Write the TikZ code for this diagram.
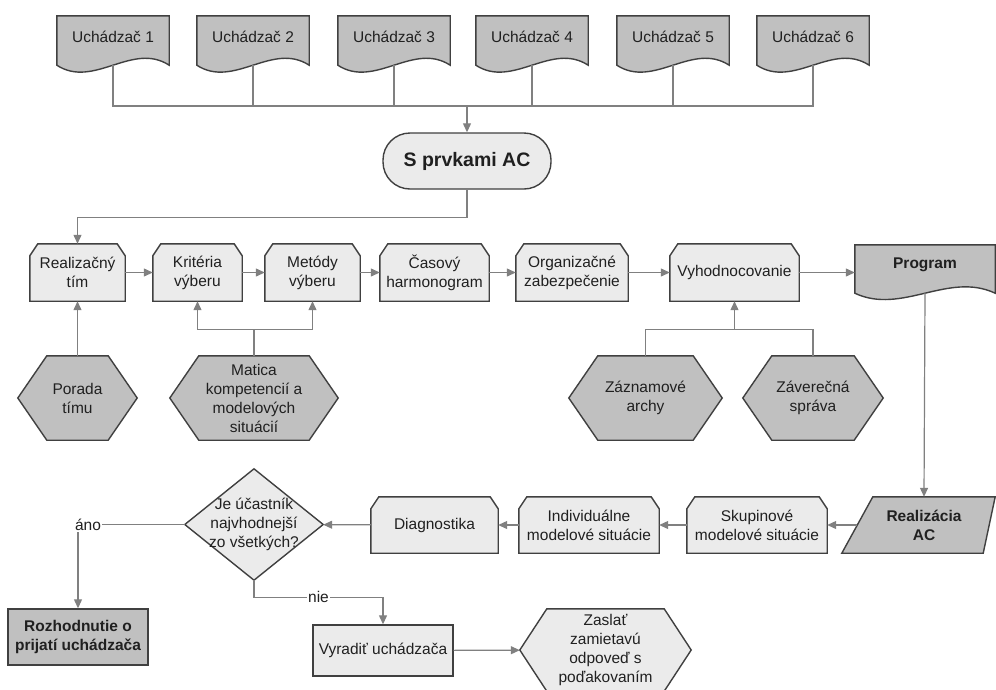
\documentclass[tikz,border=0pt]{standalone}
\usepackage{fontspec}
\setmainfont{Liberation Sans}
\usepackage{tikz}
\usetikzlibrary{arrows.meta, calc, backgrounds}

\definecolor{boxline}{HTML}{404040}
\definecolor{lightfill}{HTML}{EBEBEB}
\definecolor{darkfill}{HTML}{C0C0C0}
\definecolor{conn}{HTML}{808080}
\definecolor{txt}{HTML}{202020}

\begin{document}
\begin{tikzpicture}[
    x=1pt, y=-1pt,
    every node/.style={inner sep=0pt, text=txt, align=center, font=\fontsize{15.5}{19}\selectfont},
    boldtext/.style={font=\fontsize{15.5}{19}\selectfont\bfseries},
    outline/.style={draw=boxline, line width=1.4pt, fill=lightfill},
    darkoutline/.style={outline, fill=darkfill},
    line/.style={draw=conn, line width=1.2pt},
    arrow/.style={line, -{Triangle[length=9pt, width=8pt]}},
    answer/.style={fill=white, inner sep=1.5pt}
]
\useasboundingbox (0,0) rectangle (996,689);

% Applicants (documents)
\foreach \x [count=\i] in {113,253,394,532,673,813}
    \node[minimum width=112pt, minimum height=42pt] (u\i) at (\x,37) {Uchádzač \i};

\coordinate (bus) at (467,106);
\node[outline, rounded corners=27pt, minimum width=168pt, minimum height=56pt,
      font=\fontsize{19.5}{22}\selectfont\bfseries] (sac) at (467,161) {S prvkami AC};

% Preparation row
\node[minimum width=95pt,  minimum height=57pt] (tim)      at (77.5,272.5)  {Realizačný\\tím};
\node[minimum width=89pt,  minimum height=57pt] (kriteria) at (197.5,272.5) {Kritéria\\výberu};
\node[minimum width=95pt,  minimum height=57pt] (metody)   at (312.5,272.5) {Metódy\\výberu};
\node[minimum width=109pt, minimum height=57pt] (casovy)   at (434.5,272.5) {Časový\\harmonogram};
\node[minimum width=112pt, minimum height=57pt] (organiz)  at (572,272.5)   {Organizačné\\zabezpečenie};
\node[minimum width=129pt, minimum height=57pt] (vyhod)    at (734.5,272.5) {Vyhodnocovanie};
\node[boldtext, minimum width=140pt, minimum height=40pt] (program) at (925,265) {Program};

% Inputs (hexagons)
\node[minimum width=119pt, minimum height=84pt] (porada) at (77.5,398)  {Porada\\tímu};
\node[minimum width=168pt, minimum height=84pt] (matica) at (254,398)   {Matica\\kompetencií a\\modelových\\situácií};
\node[minimum width=153pt, minimum height=84pt] (zaznam) at (645.5,398) {Záznamové\\archy};
\node[minimum width=140pt, minimum height=84pt] (zaver)  at (813,398)   {Záverečná\\správa};

% Realization row
\node[boldtext, minimum width=133pt, minimum height=56pt] (realac) at (924,525) {Realizácia\\AC};
\node[minimum width=140pt, minimum height=56pt] (skup)   at (757,525)   {Skupinové\\modelové situácie};
\node[minimum width=140pt, minimum height=56pt] (indiv)  at (589,525)   {Individuálne\\modelové situácie};
\node[minimum width=127pt, minimum height=56pt] (diag)   at (434.5,525) {Diagnostika};
\node[minimum width=138pt, minimum height=111pt] (otazka) at (254,524.5) {Je účastník\\najvhodnejší\\zo všetkých?};

% Outcomes
\node[darkoutline, boldtext, minimum width=140pt, minimum height=56pt] (rozhod) at (78,637) {Rozhodnutie o\\prijatí uchádzača};
\node[outline, minimum width=140pt, minimum height=51pt] (vyradit) at (383,650.5) {Vyradiť uchádzača};
\node[minimum width=171pt, minimum height=82pt] (zaslat) at (605.5,650) {Zaslať\\zamietavú\\odpoveď s\\poďakovaním};

% Shape outlines
\begin{scope}[on background layer]
\foreach \i in {1,...,6}
    \filldraw[darkoutline] (u\i.north west) -- (u\i.north east) -- ($(u\i.south east)+(0,7)$)
        .. controls +(-37,-24) and +(37,24) .. ($(u\i.south west)+(0,7)$) -- cycle;
\filldraw[darkoutline] (program.north west) -- (program.north east) -- ($(program.south east)+(0,8)$)
    .. controls +(-47,-22) and +(47,22) .. ($(program.south west)+(0,8)$) -- cycle;
\foreach \n in {tim,kriteria,metody,casovy,organiz,vyhod,skup,indiv,diag}
    \filldraw[outline] (\n.south west) -- ($(\n.north west)+(0,12)$) -- ($(\n.north west)+(8,0)$)
        -- ($(\n.north east)+(-8,0)$) -- ($(\n.north east)+(0,12)$) -- (\n.south east) -- cycle;
\foreach \n in {porada,matica,zaznam,zaver}
    \filldraw[darkoutline] (\n.west) -- ($(\n.north west)+(29,0)$) -- ($(\n.north east)+(-29,0)$)
        -- (\n.east) -- ($(\n.south east)+(-29,0)$) -- ($(\n.south west)+(29,0)$) -- cycle;
\filldraw[outline] (zaslat.west) -- ($(zaslat.north west)+(27,0)$) -- ($(zaslat.north east)+(-27,0)$)
    -- (zaslat.east) -- ($(zaslat.south east)+(-27,0)$) -- ($(zaslat.south west)+(27,0)$) -- cycle;
\filldraw[darkoutline] ($(realac.north west)+(15.5,0)$) -- ($(realac.north east)+(4.5,0)$)
    -- ($(realac.south east)+(-7.5,0)$) -- ($(realac.south west)+(-15.5,0)$) -- cycle;
\filldraw[outline] (otazka.north) -- (otazka.east) -- (otazka.south) -- (otazka.west) -- cycle;
\end{scope}

% Connectors
\foreach \i in {1,...,6}
    \draw[line] ($(u\i.south)+(0,7)$) |- (bus);
\draw[arrow] (bus) -- (sac);
\draw[arrow] (sac.south) -- ++(0,28) -| (tim.north);

\draw[arrow] (tim) -- (kriteria);
\draw[arrow] (kriteria) -- (metody);
\draw[arrow] (metody) -- (casovy);
\draw[arrow] (casovy) -- (organiz);
\draw[arrow] (organiz) -- (vyhod);
\draw[arrow] (vyhod.east) -- (vyhod.east -| program.west);

\draw[arrow] (porada) -- (tim);
\draw[arrow] (matica.north) -- ++(0,-26) -| (kriteria.south);
\draw[arrow] (matica.north) -- ++(0,-26) -| (metody.south);
\draw[line] (zaznam.north) -- ++(0,-26) -| (zaver.north);
\draw[arrow] ($(zaznam.north)+(0,-26)$) -| (vyhod.south);

\draw[arrow] ($(program.south)+(0,8)$) -- (realac.north);
\draw[arrow] (realac.west) -- (skup.east);
\draw[arrow] (skup) -- (indiv);
\draw[arrow] (indiv) -- (diag);
\draw[arrow] (diag) -- (otazka);

\draw[arrow] (otazka.west) -| node[answer, pos=0.5, xshift=10pt] {áno} (rozhod.north);
\draw[arrow] (otazka.south) -- ++(0,17) -| node[answer, pos=0.25] {nie} (vyradit.north);
\draw[arrow] (vyradit) -- (zaslat);

\end{tikzpicture}
\end{document}
